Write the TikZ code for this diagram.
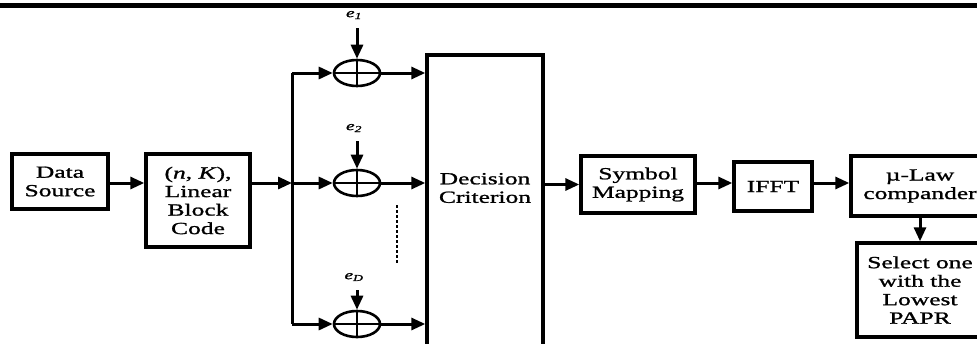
\documentclass[tikz,border=0pt]{standalone}
\usepackage{fontspec}
\setmainfont{Liberation Serif}[FakeStretch=1.5, FakeBold=1.2]
\usetikzlibrary{arrows.meta,shapes.geometric}

\tikzset{
    blk/.style={draw, line width=3.4pt, inner sep=0pt, align=center,
        font=\fontsize{17}{18.5}\selectfont},
    txt/.style={inner sep=0pt, align=center, font=\fontsize{17}{18.5}\selectfont},
    adder/.style={draw, ellipse, line width=2.6pt, inner sep=0pt,
        minimum width=46pt, minimum height=26pt},
    errlbl/.style={inner sep=0pt, font=\fontsize{13}{13}\selectfont\itshape},
    arr/.style={line width=3pt, -{Triangle[length=14pt,width=12pt]}},
    bus/.style={line width=3pt}
}

\begin{document}
\begin{tikzpicture}[x=1pt, y=-1pt]
    \useasboundingbox (0,0) rectangle (977,343);
    \fill (0,2.5) rectangle (977,7.5);

    \node[blk, minimum width=96pt, minimum height=55pt] (src) at (60,181.5) {Data\\Source};
    \node[blk, minimum width=104pt, minimum height=93pt] (lbc) at (198,200.5) {(\textit{n}, \textit{K}),\\Linear\\Block\\Code};
    \coordinate (bm) at (292,183);
    \coordinate (bt) at (292,73);
    \coordinate (bb) at (292,324);
    \node[blk, minimum width=116pt, minimum height=305pt] (dec) at (485,207.5) {};
    \node[txt] (dect) at (485,188) {Decision\\Criterion};
    \node[blk, minimum width=114pt, minimum height=57pt] (sym) at (638,184.5) {Symbol\\Mapping};
    \node[blk, minimum width=78pt, minimum height=49pt] (ifft) at (773,186.5) {IFFT};
    \node[blk, minimum width=138pt, minimum height=60pt] (mu) at (920,186) {µ-Law\\compander};
    \node[blk, minimum width=126pt, minimum height=94pt] (sel) at (920,290) {Select one\\with the\\Lowest\\PAPR};

    \draw[arr] (src.east |- bm) -- (lbc.west |- bm);
    \draw[arr] (lbc.east |- bm) -- (bm);
    \draw[bus] (bt) -- (bb);

    \foreach \name/\y/\sub/\ly in {a1/73/1/15, a2/183/2/128, a3/324/D/277} {
        \node[adder] (\name) at (357,\y) {};
        \draw[line width=2.6pt] (\name.north) -- (\name.south) (\name.west) -- (\name.east);
        \node[errlbl] (e\name) at (354,\ly) {e\textsubscript{\sub}};
        \coordinate (t\name) at (357,\ly+13);
        \draw[arr] (t\name) -- (\name.north);
        \draw[arr] (\name.west -| bt) -- (\name.west);
        \draw[arr] (\name.east) -- (\name.east -| dec.west);
    }

    \draw[line width=2.4pt, dash pattern=on 3pt off 2pt] (397,205) -- (397,263);

    \draw[arr] (sym.west -| dec.east) -- (sym.west);
    \draw[arr] (sym.east |- bm) -- (ifft.west |- bm);
    \draw[arr] (ifft.east |- bm) -- (mu.west |- bm);
    \draw[arr] (mu.south) -- (sel.north);
\end{tikzpicture}
\end{document}
